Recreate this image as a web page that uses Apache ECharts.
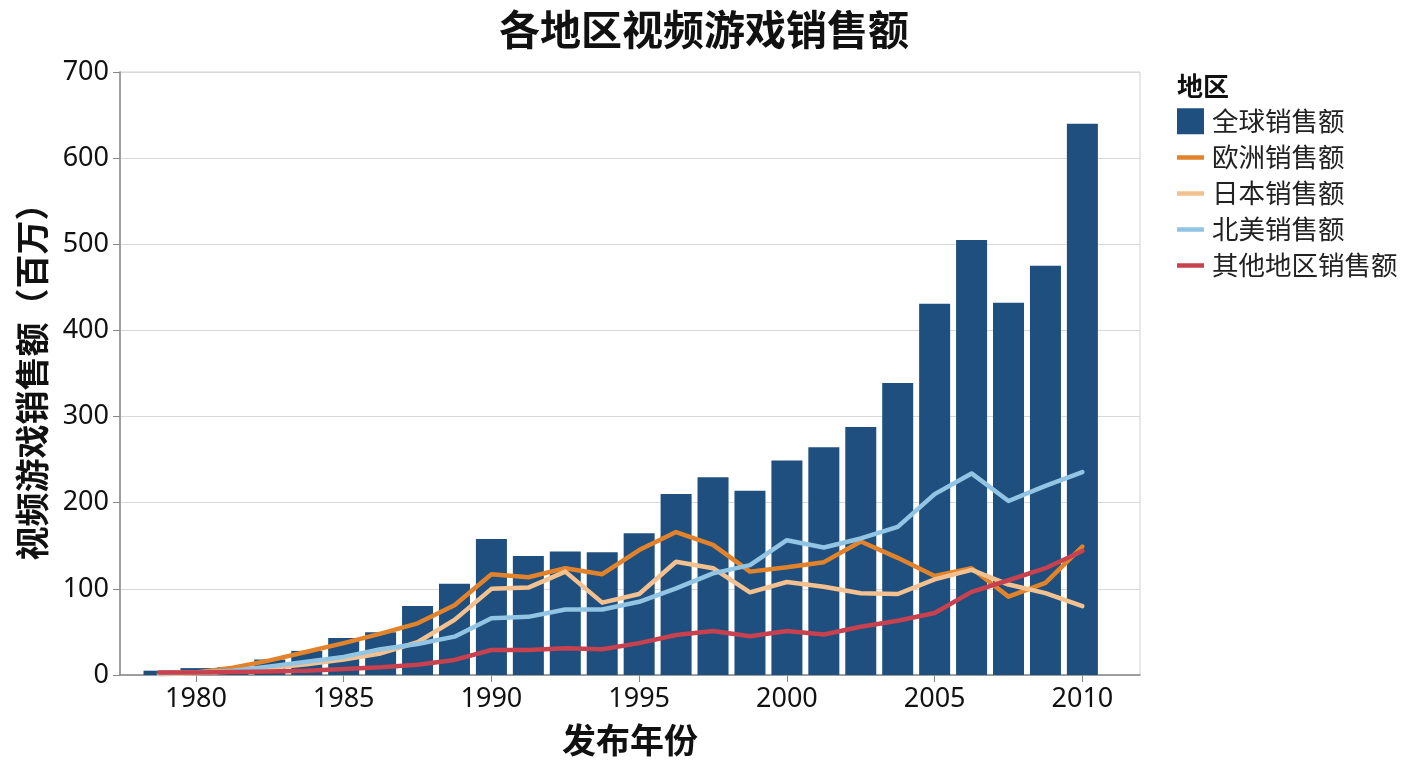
<!DOCTYPE html>
<html>
<head>
<meta charset="utf-8">
<title>各地区视频游戏销售额</title>
<script src="https://cdn.jsdelivr.net/npm/echarts@6/dist/echarts.min.js"></script>
<style>
  html, body { margin: 0; padding: 0; background: #fff; }
  #main { width: 1408px; height: 768px; }
</style>
</head>
<body>
<div id="main"></div>
<script>
// 发布年份（柱子位置）
const years = [1978.75, 1980, 1981.25, 1982.5, 1983.75, 1985, 1986.25, 1987.5, 1988.75, 1990,
  1991.25, 1992.5, 1993.75, 1995, 1996.25, 1997.5, 1998.75, 2000, 2001.25, 2002.5,
  2003.75, 2005, 2006.25, 2007.5, 2008.75, 2010];
const yearTicks = [1980, 1985, 1990, 1995, 2000, 2005, 2010];

// 销售额（百万）
const globalSales = [5, 8, 9, 18, 28, 43, 49.5, 80, 106, 158,
  138, 143.5, 142.5, 164.5, 210, 229.5, 214, 249, 264.5, 288,
  339, 431, 505, 432, 475, 640];
const euSales = [2, 3, 8.5, 17, 27, 37, 48, 60, 81, 117,
  113.5, 124, 117, 145, 166, 151, 120, 125, 131, 155,
  136, 115, 124, 91, 107, 149];
const jpSales = [1, 2, 4, 8, 12.5, 18, 25, 38, 64, 100,
  101.5, 120, 84, 94, 131.5, 124, 96, 108, 102.5, 95,
  94, 111, 122, 105, 95, 80];
const naSales = [2, 3, 5, 10, 15.5, 21, 30, 36, 44.5, 66,
  67.5, 76, 76, 85, 100.5, 118, 127.5, 156.5, 148, 158.5,
  172, 210, 234, 202, 219.5, 235.5];
const otherSales = [3, 3, 3.5, 4, 5, 7, 9, 12, 17.5, 29,
  29, 31, 30, 37, 46.5, 51, 45, 51, 47, 56,
  63, 72, 96.5, 110, 124, 144];

const FONT = '"Noto Sans CJK SC", "Noto Sans", sans-serif';
const NUM_FONT = '"Noto Sans", "Noto Sans CJK SC", sans-serif';
// 线条图例：带上下留白的细矩形
const LINE_ICON = 'path://M0,0M27,26M0,11h27v4.5h-27z';

function pairs(vals) {
  return years.map(function (y, i) { return [y, vals[i]]; });
}

function lineSeries(name, vals, color) {
  return {
    name: name,
    type: 'line',
    data: pairs(vals),
    symbol: 'none',
    z: 3,
    lineStyle: { width: 4.5, color: color, cap: 'round', join: 'round' },
    itemStyle: { color: color }
  };
}

const chart = echarts.init(document.getElementById('main'));

const option = {
  backgroundColor: '#ffffff',
  animation: false,
  textStyle: { fontFamily: FONT },
  title: [{
    text: '各地区视频游戏销售额',
    left: 'center',
    top: 4,
    textStyle: { fontSize: 41, fontWeight: 'bold', color: '#111', fontFamily: FONT }
  }, {
    text: '地区',
    left: 1172,
    top: 68,
    textStyle: { fontSize: 26, fontWeight: 'bold', color: '#111', fontFamily: FONT }
  }],
  legend: {
    orient: 'vertical',
    left: 1172,
    top: 103,
    itemWidth: 27,
    itemHeight: 26,
    itemGap: 9.5,
    textStyle: { fontSize: 26.5, color: '#222', fontFamily: FONT, padding: [0, 0, 0, 3] },
    data: [
      { name: '全球销售额', icon: 'rect' },
      { name: '欧洲销售额', icon: LINE_ICON },
      { name: '日本销售额', icon: LINE_ICON },
      { name: '北美销售额', icon: LINE_ICON },
      { name: '其他地区销售额', icon: LINE_ICON }
    ]
  },
  grid: {
    left: 120,
    right: 268,
    top: 72,
    bottom: 93,
    show: true,
    borderColor: '#d0d0d0',
    borderWidth: 1
  },
  xAxis: {
    type: 'value',
    min: 1977.43,
    max: 2011.95,
    name: '发布年份',
    nameLocation: 'middle',
    nameGap: 48,
    nameTextStyle: { fontSize: 34, fontWeight: 'bold', color: '#111', fontFamily: FONT },
    splitLine: { show: false },
    axisLine: { show: true, lineStyle: { color: '#888', width: 1.5 } },
    axisTick: { show: true, length: 7, customValues: yearTicks, lineStyle: { color: '#888' } },
    axisLabel: {
      fontSize: 27, color: '#111', margin: 11, customValues: yearTicks, fontFamily: NUM_FONT,
      formatter: function (v) { return String(v); }
    }
  },
  yAxis: {
    type: 'value',
    min: 0,
    max: 700,
    interval: 100,
    name: '视频游戏销售额（百万）',
    nameLocation: 'middle',
    nameGap: 71,
    nameTextStyle: { fontSize: 34, fontWeight: 'bold', color: '#111', fontFamily: FONT },
    axisLine: { show: true, lineStyle: { color: '#888', width: 1.5 } },
    axisTick: { show: true, length: 7, lineStyle: { color: '#888' } },
    axisLabel: { fontSize: 27, color: '#111', margin: 11, fontFamily: NUM_FONT },
    splitLine: { show: true, lineStyle: { color: '#d8d8d8', width: 1 } }
  },
  series: [
    {
      name: '全球销售额',
      type: 'bar',
      data: pairs(globalSales),
      barWidth: 31,
      z: 2,
      itemStyle: { color: '#1e4f7e' }
    },
    lineSeries('欧洲销售额', euSales, '#e2832b'),
    lineSeries('日本销售额', jpSales, '#f3c18f'),
    lineSeries('北美销售额', naSales, '#92c4e3'),
    lineSeries('其他地区销售额', otherSales, '#c7414f')
  ]
};

chart.setOption(option);
</script>
</body>
</html>
